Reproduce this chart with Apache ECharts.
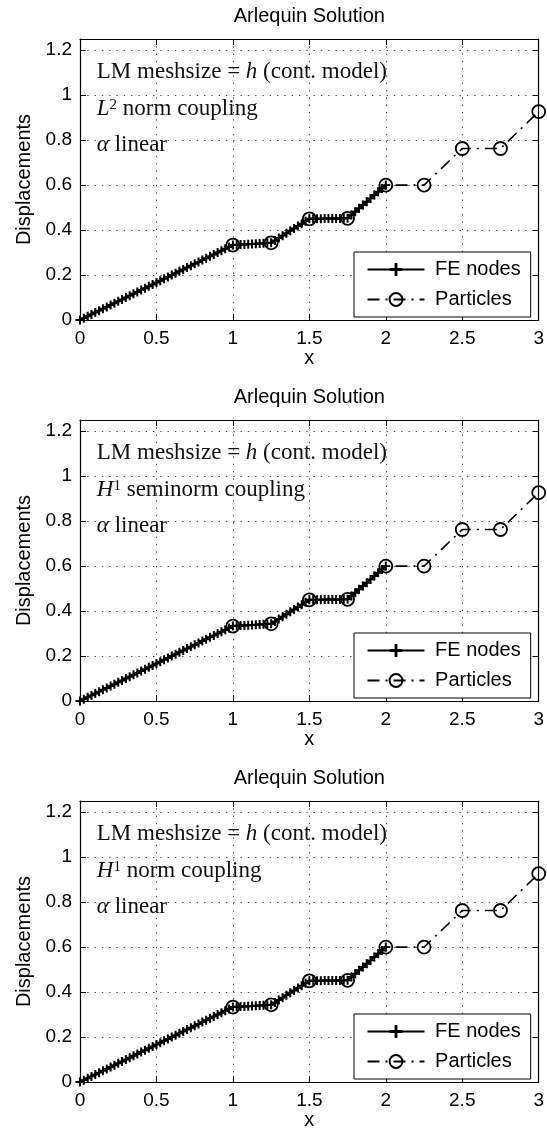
<!DOCTYPE html>
<html><head><meta charset="utf-8">
<script src="https://cdn.jsdelivr.net/npm/echarts/dist/echarts.min.js"></script>
<style>html,body{margin:0;padding:0;background:#fff}#c{width:547px;height:1135px}</style>
</head><body><div id="c"></div>
<script>
// ---- data ----
const feX = [0,0.025,0.05,0.075,0.1,0.125,0.15,0.175,0.2,0.225,0.25,0.275,0.3,0.325,0.35,0.375,0.4,0.425,0.45,0.475,
  0.5,0.525,0.55,0.575,0.6,0.625,0.65,0.675,0.7,0.725,0.75,0.775,0.8,0.825,0.85,0.875,0.9,0.925,0.95,0.975,
  1,1.025,1.05,1.075,1.1,1.125,1.15,1.175,1.2,1.225,1.25,1.275,1.3,1.325,1.35,1.375,1.4,1.425,1.45,1.475,
  1.5,1.525,1.55,1.575,1.6,1.625,1.65,1.675,1.7,1.725,1.75,1.775,1.8,1.825,1.85,1.875,1.9,1.925,1.95,1.975,2];
const feY = [0,0.0083,0.0167,0.025,0.0333,0.0417,0.05,0.0583,0.0667,0.075,0.0833,0.0917,0.1,0.1083,0.1167,0.125,0.1333,0.1417,0.15,0.1583,
  0.1667,0.175,0.1833,0.1917,0.2,0.2083,0.2167,0.225,0.2333,0.2417,0.25,0.2583,0.2667,0.275,0.2833,0.2917,0.3,0.3083,0.3167,0.325,
  0.3333,0.3343,0.3353,0.3363,0.3373,0.3383,0.3393,0.3403,0.3413,0.3423,0.3433,0.354,0.3646,0.3753,0.386,0.3966,0.4073,0.418,0.4286,0.4393,
  0.45,0.4503,0.4505,0.4508,0.451,0.4513,0.4515,0.4518,0.452,0.4523,0.4525,0.4673,0.482,0.4968,0.5115,0.5263,0.541,0.5558,0.5705,0.5853,0.6];
const particleX = [1,1.25,1.5,1.75,2,2.25,2.5,2.75,3];
const particleY = [0.3333,0.3433,0.45,0.4525,0.6,0.6,0.763,0.763,0.927];
const xTicks = [0,0.5,1,1.5,2,2.5,3];
const yTicks = [0,0.2,0.4,0.6,0.8,1,1.2];
const panelTitle = 'Arlequin Solution';
const seriesNames = ['FE nodes','Particles'];
const noteLine1 = ['LM meshsize = ','h',' (cont. model)'];
const noteLine2 = [['L','2',' norm coupling'],['H','1',' seminorm coupling'],['H','1',' norm coupling']];
const noteLine3 = ['\u03b1',' linear'];

// ---- layout ----
const GL = 80, GW = 460, GH = 281;
const gridTops = [39, 420, 801];
const SANS = 'Liberation Sans, Arial, Helvetica, sans-serif';
const SERIF = 'Liberation Serif, Times New Roman, serif';

const chart = echarts.init(document.getElementById('c'), null, {renderer:'canvas'});
const fePairs = feX.map((x,i)=>[x, feY[i]]);
const parPairs = particleX.map((x,i)=>[x, particleY[i]]);
const plusPath = 'path://M-1,-0.22H1V0.22H-1Z M-0.22,-1H0.22V1H-0.22Z';

const grids = [], xAxes = [], yAxes = [], series = [], legends = [];
gridTops.forEach((top, k) => {
  grids.push({left: GL, top: top, width: GW, height: GH, show:false});
  const tick = {show:true, inside:true, length:6, lineStyle:{color:'#000', width:1}};
  const line = {show:true, onZero:false, lineStyle:{color:'#000', width:1.2}};
  const split = {show:true, lineStyle:{color:'#444', width:1, type:[1.3,6]}};
  xAxes.push({type:'value', gridIndex:k, position:'bottom', min:xTicks[0], max:xTicks[xTicks.length-1], interval:0.5,
    axisLine:line, axisTick:tick, splitLine:split,
    axisLabel:{color:'#000', fontSize:19, fontFamily:SANS, margin:9},
    name:'x', nameLocation:'middle', nameGap:23, nameTextStyle:{color:'#000', fontSize:20, fontFamily:SANS}});
  xAxes.push({type:'value', gridIndex:k, position:'top', min:xTicks[0], max:xTicks[xTicks.length-1], interval:0.5,
    axisLine:line, axisTick:tick, splitLine:{show:false}, axisLabel:{show:false}});
  yAxes.push({type:'value', gridIndex:k, position:'left', min:0, max:1.25, interval:0.2,
    axisLine:line, axisTick:tick, splitLine:split,
    axisLabel:{color:'#000', fontSize:19, fontFamily:SANS, margin:8, showMaxLabel:false,
      formatter: v => yTicks.some(t => Math.abs(t - v) < 1e-6) ? String(+v.toFixed(1)) : ''},
    name:'Displacements', nameLocation:'middle', nameGap:44, nameRotate:90,
    nameTextStyle:{color:'#000', fontSize:20, fontFamily:SANS}});
  yAxes.push({type:'value', gridIndex:k, position:'right', min:0, max:1.25, interval:0.2,
    axisLine:line, axisTick:tick, splitLine:{show:false}, axisLabel:{show:false}});
  series.push({name:seriesNames[0], type:'line', xAxisIndex:2*k, yAxisIndex:2*k, data:fePairs,
    symbol:plusPath, symbolSize:9, clip:false, z:3,
    lineStyle:{color:'#000', width:2}, itemStyle:{color:'#000'}});
  series.push({name:seriesNames[1], type:'line', xAxisIndex:2*k, yAxisIndex:2*k, data:parPairs,
    symbol:'circle', symbolSize:13, clip:false, z:4,
    lineStyle:{color:'#000', width:1.6, type:[12,6,2,6]},
    itemStyle:{color:'rgba(0,0,0,0)', borderColor:'#000', borderWidth:1.8}});
  legends.push({orient:'vertical', left:354, top: top + 213, padding:[7.5,10,7.5,12.5],
    itemWidth:57, itemHeight:16, itemGap:10, borderColor:'#000', borderWidth:1, backgroundColor:'#fff',
    selectedMode:false, data:seriesNames, formatter: n => ' ' + n,
    textStyle:{color:'#000', fontSize:20, fontFamily:SANS}});
});

chart.setOption({
  animation:false, backgroundColor:'#fff',
  grid:grids, xAxis:xAxes, yAxis:yAxes, series:series, legend:legends
});

// ---- titles and annotations, anchored to data coordinates ----
const graphics = [];
const richStyles = {
  r:{fontFamily:SERIF, fontSize:23, fill:'#111'},
  i:{fontFamily:SERIF, fontSize:23, fontStyle:'italic', fill:'#111'},
  s:{fontFamily:SERIF, fontSize:15, fill:'#111', verticalAlign:'top'}
};
gridTops.forEach((top, k) => {
  const fin = {xAxisIndex:2*k, yAxisIndex:2*k};
  const p1 = chart.convertToPixel(fin, [0.11, 1.105]);
  const p2 = chart.convertToPixel(fin, [0.11, 0.94]);
  const p3 = chart.convertToPixel(fin, [0.11, 0.778]);
  const mid = chart.convertToPixel(fin, [1.5, 0]);
  graphics.push({type:'text', x: mid[0], y: top - 23, z:10,
    style:{text:panelTitle, fill:'#000', fontSize:20, fontFamily:SANS, textAlign:'center', textVerticalAlign:'middle'}});
  graphics.push({type:'text', x:p1[0], y:p1[1], z:10,
    style:{text:'{r|' + noteLine1[0] + '}{i|' + noteLine1[1] + '}{r|' + noteLine1[2] + '}', rich:richStyles,
      textAlign:'left', textVerticalAlign:'middle'}});
  const l2 = noteLine2[k];
  graphics.push({type:'text', x:p2[0], y:p2[1], z:10,
    style:{text:'{i|' + l2[0] + '}{s|' + l2[1] + '}{r|' + l2[2] + '}', rich:richStyles,
      textAlign:'left', textVerticalAlign:'middle'}});
  graphics.push({type:'text', x:p3[0], y:p3[1], z:10,
    style:{text:'{i|' + noteLine3[0] + '}{r|' + noteLine3[1] + '}', rich:richStyles,
      textAlign:'left', textVerticalAlign:'middle'}});
});
chart.setOption({graphic:graphics});
</script>
</body></html>
